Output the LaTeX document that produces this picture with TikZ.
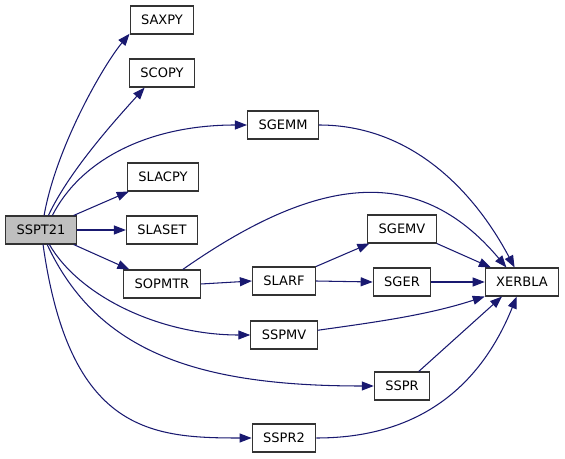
\documentclass[tikz,border=0pt]{standalone}
\usepackage{fontspec}
\setmainfont{DejaVu Sans}
\usepackage{xcolor}
\usepackage{tikz}
\usetikzlibrary{arrows.meta}

\definecolor{edgeblue}{RGB}{25,25,112}
\definecolor{rootgray}{RGB}{191,191,191}

\begin{document}
\begin{tikzpicture}[x=0.02cm, y=0.02cm,
  fn/.style={draw=black!80, line width=0.6pt, fill=white, minimum height=0.56cm,
    inner xsep=0.22cm, inner ysep=0pt, font=\fontsize{7.4}{9}\selectfont},
  call/.style={draw=edgeblue, line width=0.6pt,
    -{Triangle[length=0.24cm, width=0.18cm, fill=edgeblue]}}]
\useasboundingbox (0,0) rectangle (565,-459);

\node[fn, fill=rootgray] (sspt21) at (41,-230) {SSPT21};
\node[fn] (saxpy)  at (162,-20)  {SAXPY};
\node[fn] (scopy)  at (162,-73)  {SCOPY};
\node[fn] (sgemm)  at (283,-125) {SGEMM};
\node[fn] (slacpy) at (163,-177) {SLACPY};
\node[fn] (slaset) at (162,-230) {SLASET};
\node[fn] (sopmtr) at (162,-284) {SOPMTR};
\node[fn] (slarf)  at (284,-281) {SLARF};
\node[fn] (sgemv)  at (402,-229) {SGEMV};
\node[fn] (sger)   at (402,-282) {SGER};
\node[fn] (xerbla) at (522,-282) {XERBLA};
\node[fn] (sspmv)  at (284,-335) {SSPMV};
\node[fn] (sspr)   at (402,-386) {SSPR};
\node[fn] (sspr2)  at (284,-438) {SSPR2};

% aus SSPT21
\draw[call] (sspt21.78) .. controls +(80:70) and +(230:40) .. (saxpy.-157);
\draw[call] (sspt21.63) .. controls +(65:50) and +(228:40) .. (scopy.-140);
\draw[call] (sspt21.52) .. controls +(63:63) and +(180:98) .. (sgemm.west);
\draw[call] (sspt21.24) -- (slacpy.-157);
\draw[call] (sspt21.east) -- (slaset.west);
\draw[call] (sspt21.-24) -- (sopmtr.156);
\draw[call] (sspt21.-60) .. controls +(-60:60) and +(180:90) .. (sspmv.west);
\draw[call] (sspt21.-67) .. controls +(-65:120) and +(180:174) .. (sspr.west);
\draw[call] (sspt21.-82) .. controls +(-82:190) and +(180:100) .. (sspr2.west);

% weiter zu XERBLA
\draw[call] (sgemm.east) .. controls +(0:90) and +(118:90) .. (xerbla.117);
\draw[call] (sopmtr.35) .. controls +(35:160) and +(130:140) .. (xerbla.137);
\draw[call] (sopmtr.east) -- (slarf.west);
\draw[call] (slarf.north east) -- (sgemv.-156);
\draw[call] (slarf.east) -- (sger.west);
\draw[call] (sgemv.south east) -- (xerbla.155);
\draw[call] (sger.east) -- (xerbla.west);
\draw[call] (sspmv.8) .. controls +(8:60) and +(198:60) .. (xerbla.south west);
\draw[call] (sspr.41) -- (xerbla.-144);
\draw[call] (sspr2.east) .. controls +(0:100) and +(248:100) .. (xerbla.-110);
\end{tikzpicture}
\end{document}
